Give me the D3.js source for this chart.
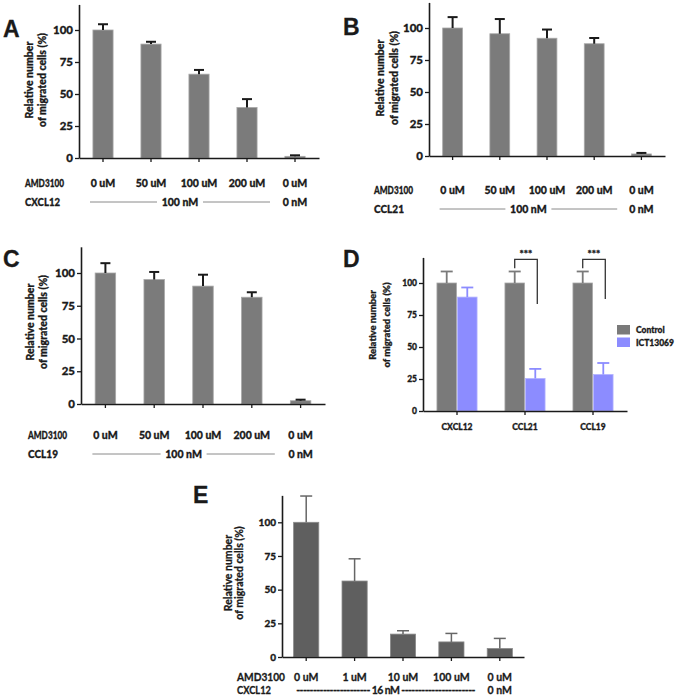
<!DOCTYPE html>
<html><head><meta charset="utf-8">
<script src="https://cdn.jsdelivr.net/npm/d3@7"></script>
<style>
body{margin:0;background:#fff}
svg{display:block}
text{font-family:Lato,"Open Sans",sans-serif;fill:#1a1a1a;stroke:#1a1a1a;stroke-width:0.3px}
</style>
</head><body>
<svg id="c" width="675" height="696"></svg>
<script>
// ---------- DATA ----------
const yTicks = [0, 25, 50, 75, 100];
const yMax = 120;

const amdABC = ["0 uM", "50 uM", "100 uM", "200 uM", "0 uM"];
const valsA = [100, 89, 65.5, 39.5, 1.3];
const errsA = [4.5, 1.8, 3.3, 6.5, 0.8];
const valsB = [100, 95.5, 92, 87.7, 1.6];
const errsB = [8.5, 11.5, 6.8, 4.5, 0.8];
const valsC = [100, 95, 90, 81.5, 2.5];
const errsC = [7.5, 5.8, 8.7, 3.8, 0.8];

const chemA = "CXCL12", chemB = "CCL21", chemC = "CCL19";
const chemDoseABC = ["100 nM", "0 nM"];

const groupsD = ["CXCL12", "CCL21", "CCL19"];
const seriesD = ["Control", "ICT13069"];
const controlD = [100, 100, 100];
const controlErrD = [9, 9, 9];
const ictD = [89, 25.4, 28.5];
const ictErrD = [7.5, 7.5, 9];
const sigGroupsD = ["CCL21", "CCL19"];
const sigLabel = "***";
const sigTop = 118.5, sigLeftBottom = 111.5;
const sigRightBottom = [83.5, 87.5];

const amdE = ["0 uM", "1 uM", "10 uM", "100 uM", "0 uM"];
const valsE = [100, 56.4, 17, 11.2, 6.3];
const errsE = [19.5, 16.5, 2.5, 6.3, 7.5];
const chemE = "CXCL12";
const chemDoseE = ["16 nM", "0 nM"];

const yTitle = ["Relative number", "of migrated cells (%)"];

// ---------- DRAW ----------
const svg = d3.select("#c");

function styleAxis(sel, fs, weight) {
  sel.attr("font-family", null).attr("font-size", null);
  sel.select(".domain").attr("stroke", "#1a1a1a").attr("stroke-width", 1.6);
  sel.selectAll(".tick line").attr("stroke", "#1a1a1a").attr("stroke-width", 1.3);
  sel.selectAll(".tick text").style("font-size", fs + "px").style("font-weight", weight).attr("fill", "#1a1a1a");
}

function yTitleDraw(cx1, cx2, cy, fs, weight) {
  [cx1, cx2].forEach((cx, i) => {
    svg.append("text")
      .attr("transform", `translate(${cx},${cy}) rotate(-90)`)
      .attr("text-anchor", "middle").attr("dy", "0.36em")
      .style("font-size", fs + "px").style("font-weight", weight)
      .text(yTitle[i]);
  });
}

function letter(t, x, y) {
  svg.append("text").attr("x", x).attr("y", y)
    .style("font-family", "'Liberation Sans',Arial,sans-serif")
    .style("font-size", "23px").style("font-weight", "bold").text(t);
}

function barPanel(o) {
  const idx = d3.range(o.vals.length);
  const x = d3.scaleBand().domain(idx).range([o.x0, o.x1]).paddingInner(o.pad).paddingOuter(o.pad / 2);
  const y = d3.scaleLinear().domain([0, yMax]).range([o.y0, o.yTop]);
  const g = svg.append("g");
  g.selectAll("rect").data(o.vals).join("rect")
    .attr("x", (d, i) => x(i)).attr("width", x.bandwidth())
    .attr("y", d => y(d)).attr("height", d => o.y0 - y(d))
    .attr("fill", o.color).attr("stroke", o.edge).attr("stroke-width", 0.8);
  const cx = i => x(i) + x.bandwidth() / 2;
  const eg = g.append("g").attr("stroke", o.errColor).attr("stroke-width", o.errW).attr("fill", "none");
  o.vals.forEach((v, i) => {
    eg.append("line").attr("x1", cx(i)).attr("x2", cx(i)).attr("y1", y(v)).attr("y2", y(v + o.errs[i]));
    eg.append("line").attr("x1", cx(i) - o.cap / 2).attr("x2", cx(i) + o.cap / 2)
      .attr("y1", y(v + o.errs[i])).attr("y2", y(v + o.errs[i]));
  });
  g.append("g").attr("transform", `translate(${o.x0},0)`)
    .call(d3.axisLeft(y).tickValues(yTicks).tickSize(4).tickPadding(2).tickSizeOuter(0))
    .call(s => styleAxis(s, o.tickFs, o.tickW));
  g.append("g").attr("transform", `translate(0,${o.y0})`)
    .call(d3.axisBottom(x).tickSize(4).tickSizeOuter(0).tickFormat(""))
    .call(s => styleAxis(s, o.tickFs, o.tickW));
  // annotation rows
  const a = o.ann;
  svg.append("text").attr("x", a.lx).attr("y", a.r1).attr("textLength", a.lw1).attr("lengthAdjust", "spacingAndGlyphs")
    .style("font-size", a.fs + "px").style("font-weight", a.w).text("AMD3100");
  svg.append("text").attr("x", a.lx).attr("y", a.r2).attr("textLength", a.lw2).attr("lengthAdjust", "spacingAndGlyphs")
    .style("font-size", a.fs + "px").style("font-weight", a.w).text(o.chem);
  svg.selectAll(null).data(o.amd).join("text")
    .attr("x", (d, i) => cx(i)).attr("y", a.r1).attr("text-anchor", "middle")
    .style("font-size", a.fs + "px").style("font-weight", a.w).text(d => d);
  const left = cx(0) - a.l0, right = cx(3) + a.l1, mid = (left + right) / 2;
  if (a.dashed) {
    svg.append("text").attr("x", left).attr("y", a.r2)
      .attr("textLength", right - left).attr("lengthAdjust", "spacing")
      .style("font-size", a.fs + "px").style("font-weight", a.w)
      .text("---------------------- " + o.dose[0] + " ----------------------");
  } else {
    svg.append("text").attr("x", mid).attr("y", a.r2).attr("text-anchor", "middle")
      .style("font-size", a.fs + "px").style("font-weight", a.w).text(o.dose[0]);
    const lg = svg.append("g").attr("stroke", "#8a8a8a").attr("stroke-width", 1);
    lg.append("line").attr("x1", left).attr("x2", mid - 23).attr("y1", a.ly).attr("y2", a.ly);
    lg.append("line").attr("x1", mid + 23).attr("x2", right).attr("y1", a.ly).attr("y2", a.ly);
  }
  svg.append("text").attr("x", cx(4)).attr("y", a.r2).attr("text-anchor", "middle")
    .style("font-size", a.fs + "px").style("font-weight", a.w).text(o.dose[1]);
}

const common = {pad: 0.58, color: "#7b7b7b", edge: "#a8a8a8", errColor: "#1a1a1a", errW: 2, cap: 10, tickFs: 11.5, tickW: 900};

// A
letter("A", 3, 37);
yTitleDraw(29, 42, 80, 10.5, 900);
barPanel(Object.assign({}, common, {x0: 79, x1: 319, y0: 158, yTop: 158 - 1.28 * yMax,
  vals: valsA, errs: errsA, amd: amdABC, chem: chemA, dose: chemDoseABC,
  ann: {lx: 25, r1: 187, r2: 206, ly: 202, lw1: 39, lw2: 35, fs: 10.5, w: 900, l0: 13, l1: 23}}));

// B
letter("B", 343, 35);
yTitleDraw(380, 394, 78, 10.5, 900);
barPanel(Object.assign({}, common, {x0: 429, x1: 665, y0: 156, yTop: 156 - 1.28 * yMax,
  vals: valsB, errs: errsB, amd: amdABC, chem: chemB, dose: chemDoseABC,
  ann: {lx: 374, r1: 194, r2: 213, ly: 209, lw1: 39, lw2: 30, fs: 10.5, w: 900, l0: 13, l1: 23}}));

// C
letter("C", 3, 267);
yTitleDraw(30, 43, 322, 10.5, 900);
barPanel(Object.assign({}, common, {x0: 81, x1: 325, y0: 404, yTop: 404 - 1.31 * yMax,
  vals: valsC, errs: errsC, amd: amdABC, chem: chemC, dose: chemDoseABC,
  ann: {lx: 28, r1: 439, r2: 458, ly: 454, lw1: 39, lw2: 30, fs: 10.5, w: 900, l0: 13, l1: 23}}));

// E
letter("E", 193, 503);
yTitleDraw(228, 239, 573, 10.5, 700);
barPanel({pad: 0.48, color: "#5f5f5f", edge: "#8a8a8a", errColor: "#666", errW: 1.5, cap: 12, tickFs: 10, tickW: 900,
  x0: 282, x1: 524, y0: 657, yTop: 657 - 1.347 * yMax,
  vals: valsE, errs: errsE, amd: amdE, chem: chemE, dose: chemDoseE,
  ann: {lx: 237, r1: 681, r2: 694, lw1: 48, lw2: 34, fs: 10.5, w: 700, l0: 10, l1: 24, dashed: true}});

// D
(function () {
  letter("D", 343, 267);
  yTitleDraw(373, 387, 325, 9.5, 900);
  const x0 = 423, x1 = 627, y0 = 411, yTop = 411 - 1.28 * yMax;
  const gx = d3.scaleBand().domain(groupsD).range([x0, x1]).paddingInner(0.41).paddingOuter(0.205);
  const sx = d3.scaleBand().domain(seriesD).range([0, gx.bandwidth()]).paddingInner(0.05);
  const y = d3.scaleLinear().domain([0, yMax]).range([y0, yTop]);
  const color = d3.scaleOrdinal().domain(seriesD).range(["#7a7a7a", "#8c8cff"]);
  const errC = d3.scaleOrdinal().domain(seriesD).range(["#7a7a7a", "#8c8cff"]);
  const rows = [];
  groupsD.forEach((gname, i) => {
    rows.push({g: gname, s: "Control", v: controlD[i], e: controlErrD[i]});
    rows.push({g: gname, s: "ICT13069", v: ictD[i], e: ictErrD[i]});
  });
  const g = svg.append("g");
  g.selectAll("rect").data(rows).join("rect")
    .attr("x", d => gx(d.g) + sx(d.s)).attr("width", sx.bandwidth())
    .attr("y", d => y(d.v)).attr("height", d => y0 - y(d.v))
    .attr("fill", d => color(d.s)).attr("stroke", d => d.s === "Control" ? "#a8a8a8" : "#b4b4ff").attr("stroke-width", 0.8);
  const cx = d => gx(d.g) + sx(d.s) + sx.bandwidth() / 2;
  rows.forEach(d => {
    const c = errC(d.s);
    g.append("line").attr("x1", cx(d)).attr("x2", cx(d)).attr("y1", y(d.v)).attr("y2", y(d.v + d.e)).attr("stroke", c).attr("stroke-width", 1.8);
    g.append("line").attr("x1", cx(d) - 6).attr("x2", cx(d) + 6).attr("y1", y(d.v + d.e)).attr("y2", y(d.v + d.e)).attr("stroke", c).attr("stroke-width", 1.8);
  });
  g.append("g").attr("transform", `translate(${x0},0)`)
    .call(d3.axisLeft(y).tickValues(yTicks).tickSize(4).tickPadding(2).tickSizeOuter(0))
    .call(s => styleAxis(s, 8.5, 900));
  g.append("g").attr("transform", `translate(0,${y0})`)
    .call(d3.axisBottom(gx).tickSize(4).tickPadding(9).tickSizeOuter(0))
    .call(s => styleAxis(s, 8.5, 900));
  // significance brackets
  sigGroupsD.forEach((gname, i) => {
    const xl = gx(gname) + sx("Control") + sx.bandwidth() / 2;
    const xr = gx(gname) + sx("ICT13069") + sx.bandwidth() / 2 + 2;
    g.append("path")
      .attr("d", `M${xl},${y(sigLeftBottom)}V${y(sigTop)}H${xr}V${y(sigRightBottom[i])}`)
      .attr("fill", "none").attr("stroke", "#333").attr("stroke-width", 1.3);
    g.append("text").attr("x", (xl + xr) / 2).attr("y", y(sigTop) - 2).attr("text-anchor", "middle")
      .style("font-size", "10px").style("font-weight", 900).text(sigLabel);
  });
  // legend
  const lg = svg.append("g").attr("transform", "translate(617,325)");
  seriesD.forEach((s, i) => {
    lg.append("rect").attr("x", 0).attr("y", i * 12.5).attr("width", 13).attr("height", 9.5).attr("fill", color(s));
    lg.append("text").attr("x", 19).attr("y", i * 12.5 + 8).style("font-size", "8.5px").style("font-weight", 900).text(s);
  });
})();
</script>
</body></html>
